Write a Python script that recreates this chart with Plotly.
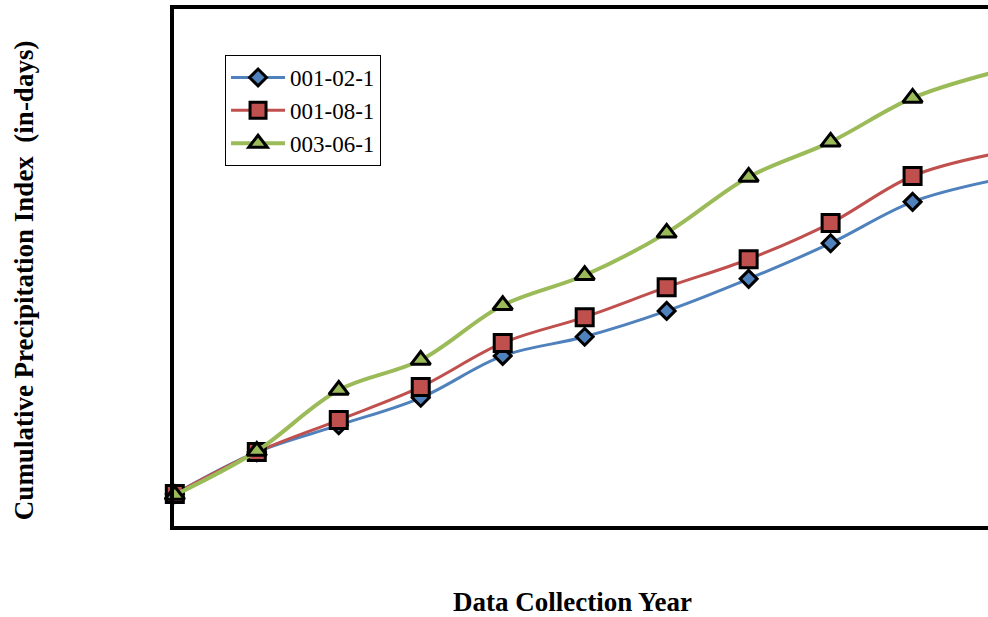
import plotly.graph_objects as go

years = list(range(11))
s1_name = "001-02-1"
s2_name = "001-08-1"
s3_name = "003-06-1"
s1 = [6.2, 14.3, 19.5, 24.8, 32.9, 36.6, 41.6, 47.8, 54.7, 62.7, 66.9]
s2 = [6.2, 14.3, 20.5, 26.9, 35.4, 40.4, 46.2, 51.6, 58.6, 67.7, 72.0]
s3 = [6.0, 14.5, 26.3, 32.1, 42.7, 48.5, 56.7, 67.5, 74.3, 82.8, 87.8]

x_title = "Data Collection Year"
y_title = "Cumulative Precipitation Index  (in-days)"

FONT = "Liberation Serif"

fig = go.Figure()
specs = [
    (s1, s1_name, "#4F81BD", "diamond", 13, 3),
    (s2, s2_name, "#C0504D", "square", 17, 3),
    (s3, s3_name, "#9BBB59", "triangle-up", 17, 4),
]
for ys, name, color, sym, size, lw in specs:
    fig.add_trace(go.Scatter(
        x=years, y=ys, name=name, mode="lines+markers",
        line=dict(color=color, width=lw, shape="spline", smoothing=1.0),
        marker=dict(symbol=sym, size=size, color=color,
                    line=dict(color="black", width=3)),
        cliponaxis=False,
    ))

title_font = dict(family=FONT, size=27, color="black", weight="bold")
fig.add_annotation(text=x_title, xref="paper", yref="paper",
                   x=0.49, y=-0.147, xanchor="center", yanchor="middle",
                   showarrow=False, font=title_font)
fig.add_annotation(text=y_title, xref="paper", yref="paper",
                   x=-0.184, y=0.476, xanchor="center", yanchor="middle",
                   textangle=-90, showarrow=False, font=title_font)

fig.update_layout(
    width=988, height=617,
    margin=dict(l=174, r=0, t=9, b=91),
    paper_bgcolor="white", plot_bgcolor="white",
    font=dict(family=FONT, color="black"),
    showlegend=True,
    legend=dict(
        x=0.0627, y=0.911, xanchor="left", yanchor="top",
        bordercolor="black", borderwidth=1, bgcolor="white",
        font=dict(family=FONT, size=23, color="black"),
        tracegroupgap=0, itemwidth=54,
    ),
    xaxis=dict(
        range=[-0.01, 9.92], showgrid=False, zeroline=False,
        showticklabels=False, ticks="",
        showline=True, linecolor="black", linewidth=4, mirror=True,
    ),
    yaxis=dict(
        range=[0, 100], showgrid=False, zeroline=False,
        showticklabels=False, ticks="",
        showline=True, linecolor="black", linewidth=4, mirror=False,
    ),
)

fig.write_html("out.html")
